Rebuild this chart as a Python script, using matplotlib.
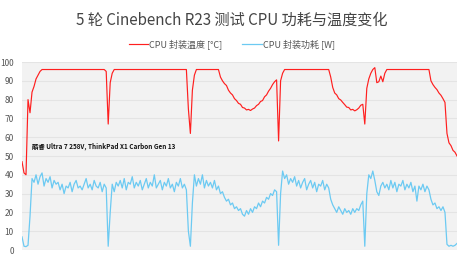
import numpy as np
import matplotlib.pyplot as plt

plt.rcParams['font.family'] = ['Noto Sans CJK SC', 'DejaVu Sans']

title = "5 轮 Cinebench R23 测试 CPU 功耗与温度变化"
label_temp = "CPU 封装温度 [°C]"
label_power = "CPU 封装功耗 [W]"
note = "酷睿 Ultra 7 258V, ThinkPad X1 Carbon Gen 13"

# CPU package temperature (°C), one sample per step
temp = [
    47, 41, 40, 80, 73, 84, 87, 91, 93, 95,
    96, 96, 96, 96, 96, 96, 96, 96, 96, 96,
    96, 96, 96, 96, 96, 96, 96, 96, 96, 96,
    96, 96, 96, 96, 96, 96, 96, 96, 96, 96,
    96, 96, 95, 67, 89, 94, 96, 96, 96, 96,
    96, 96, 96, 96, 96, 96, 96, 96, 96, 96,
    96, 96, 96, 96, 96, 96, 96, 96, 96, 96,
    96, 96, 96, 96, 96, 96, 96, 96, 96, 96,
    96, 96, 96, 75, 62, 85, 93, 96, 96, 96,
    96, 96, 96, 96, 96, 96, 96, 96, 96, 92,
    90, 88.5, 87.5, 85, 83.5, 82.5, 80.5, 79.5, 78, 77.5,
    75.8, 75.5, 74.5, 74.8, 74.2, 75, 75.5, 76.8, 77.5, 79,
    79.5, 81.5, 82.5, 84.5, 86, 88, 89.5, 90.5, 58, 90,
    94, 96, 96, 96, 96, 96, 96, 96, 96, 96,
    96, 96, 96, 96, 96, 96, 96, 96, 96, 96,
    96, 96, 96, 96, 92, 86.5, 83.5, 82.5, 80.5, 79.8,
    78.5, 77.3, 76, 75.8, 74.5, 74.8, 74, 74.6, 75.5, 77,
    77.5, 67, 86, 91, 94, 96, 97, 89, 89.5, 92.5,
    89.5, 94, 96, 96, 96, 96, 96, 96, 96, 96,
    96, 96, 96, 96, 96, 96, 96, 96, 96, 96,
    96, 96, 96, 96, 90, 88, 86.5, 85.3, 83.5, 82.3,
    80.5, 78.5, 62, 57, 55.5, 53, 52, 50,
]

# CPU package power (W)
power = [
    7, 2, 1.8, 2.5, 18, 38, 36, 40, 35, 39,
    41, 34, 38, 36, 39, 33, 37, 35, 36, 32,
    35, 30, 34, 33, 36, 31, 35, 37, 33, 34,
    32, 35, 38, 33, 35, 32, 37, 34, 33, 36,
    31, 35, 33, 2, 20, 35, 31, 36, 34, 37,
    33, 38, 32, 36, 35, 39, 33, 36, 34, 37,
    32, 35, 38, 33, 36, 34, 40, 33, 35, 37,
    32, 36, 34, 38, 33, 35, 31, 36, 34, 38,
    33, 35, 32, 10, 2, 25, 40, 34, 38, 35,
    40, 33, 37, 34, 36, 33, 37, 32, 34, 30,
    31, 28, 26, 27, 24, 25, 22, 23, 21, 22,
    19, 18, 21, 19, 22, 20, 23, 22, 25, 23,
    26, 25, 28, 27, 30, 29, 32, 31, 2.5, 30,
    42, 38, 40, 35, 38, 36, 39, 34, 37, 33,
    36, 38, 32, 35, 37, 33, 36, 31, 35, 34,
    37, 32, 35, 33, 27, 24, 22, 20, 23, 21,
    19, 22, 20, 21, 19, 22, 20, 22, 21, 24,
    26, 2, 30, 40, 38, 42, 37, 31, 29, 34,
    36, 33, 35, 32, 37, 33, 36, 31, 35, 34,
    37, 32, 35, 33, 36, 31, 34, 26, 34, 32,
    35, 31, 34, 32, 27, 24, 25, 22, 23, 21,
    23, 20, 3, 2, 2.5, 2, 2.5, 3.5,
]

t = np.arange(len(temp))

fig = plt.figure(figsize=(4.64, 2.59), dpi=100)
ax = fig.add_axes([22 / 464, 1 - 250 / 259, 435 / 464, 188 / 259])
ax.set_facecolor('#f2f2f2')

ax.plot(t, temp, color='#ff1f1f', lw=0.85, label=label_temp)
ax.plot(t, power, color='#6ccaf2', lw=0.9, label=label_power)

ax.set_xlim(0, len(temp) - 1)
ax.set_ylim(0, 100)
ax.set_yticks(np.arange(0, 101, 10))
ax.set_xticks([])
ax.yaxis.grid(True, color='#e4e4e4', lw=0.8)
ax.set_axisbelow(True)
ax.tick_params(axis='y', length=0, labelsize=6, labelcolor='#555555', pad=6)
for s in ax.spines.values():
    s.set_visible(False)

ax.text(5, 55, note, fontsize=4.6, fontweight='bold', color='#111111',
        va='center')

fig.text(0.5, 1 - 20 / 259, title, ha='center', va='center',
         fontsize=10.9, color='#444444')
fig.legend(loc='center', bbox_to_anchor=(0.5, 1 - 44 / 259), ncol=2,
           frameon=False, fontsize=6.5, labelcolor='#555555',
           handlelength=2.2, handletextpad=0.1, columnspacing=2.2)

fig.savefig('out.png', dpi=100)
